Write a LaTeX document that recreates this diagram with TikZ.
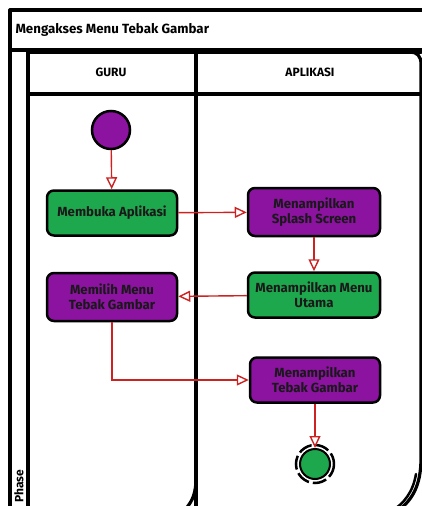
\documentclass[tikz,border=0pt]{standalone}
\usepackage{fontspec}
\setmainfont{Fira Sans}
\usetikzlibrary{arrows.meta}
\definecolor{actgreen}{RGB}{30,168,78}
\definecolor{actpurple}{RGB}{140,18,160}
\definecolor{flowred}{RGB}{204,34,34}
\tikzset{
  lane/.style={line width=3.2pt, line join=round, line cap=round},
  activity/.style={draw=black, line width=2.5pt, rounded corners=7pt, minimum width=130pt, minimum height=45pt, align=center, font=\fontsize{13.2}{15}\selectfont\bfseries, text=black!90, inner sep=1pt},
  flow/.style={draw=flowred, line width=1.4pt, -{Triangle[open, length=12pt, width=11pt, line width=1.4pt]}},
}

\begin{document}
\begin{tikzpicture}[x=1pt, y=-1pt]
			%%%%% START %%%%%
			\useasboundingbox (0, 0) rectangle (422, 506);
			
			% frame and lanes
			\draw[lane] (10, 510) -- (10, 10) -- (424, 10);
			\draw[lane] (10, 50) -- (424, 50);
			\draw[lane] (28, 510) -- (28, 52) -- (421, 52);
			\draw[lane] (196, 52) -- (196, 510);
			\draw[lane] (196, 482) .. controls (195, 497) and (191, 503) .. (183, 512);
			\draw[lane] (410, 52) .. controls (417, 52) and (421, 56) .. (421, 64) -- (421, 458) .. controls (421, 486) and (412, 501) .. (396, 512);
			\draw[lane, line width=2.5pt] (416, 474) .. controls (413, 492) and (404, 504) .. (390, 512);
			\draw[lane] (28, 94) -- (421, 94);
			
			\node[anchor=west, font=\fontsize{13.3}{15}\selectfont\bfseries] (title) at (12, 30) {Mengakses Menu Tebak Gambar};
			\node[font=\fontsize{12}{14}\selectfont\bfseries] (guru) at (111, 72) {GURU};
			\node[font=\fontsize{12}{14}\selectfont\bfseries] (aplikasi) at (310, 72) {APLIKASI};
			\node[rotate=90, font=\fontsize{12}{14}\selectfont\bfseries] (phase) at (19, 486) {Phase};
			
			% activities
			\node[circle, draw=black, line width=2.5pt, fill=actpurple, minimum size=38pt] (start) at (111, 130) {};
			\node[activity, fill=actgreen] (buka) at (112, 213) {Membuka Aplikasi};
			\node[activity, fill=actpurple, minimum width=132pt, minimum height=48pt] (splash) at (314, 212) {Menampilkan\\Splash Screen};
			\node[activity, fill=actgreen, minimum width=132pt] (utama) at (314, 295) {Menampilkan Menu\\Utama};
			\node[activity, fill=actpurple, minimum height=48pt] (pilih) at (112, 297) {Memilih Menu\\Tebak Gambar};
			\node[activity, fill=actpurple] (tebak) at (315, 380) {Menampilkan\\Tebak Gambar};
			\node[circle, draw=black, line width=2pt, fill=actgreen, minimum size=30pt] (finish) at (315, 464) {};
			\draw[line width=2.5pt, dash pattern=on 14pt off 4pt] (finish.center) circle (19);
			
			% flows
			\draw[flow] (start) -- (buka);
			\draw[flow] (buka) -- (splash);
			\draw[flow] (splash) -- (utama);
			\draw[flow] (utama) -- (pilih);
			\draw[flow] (pilih.south) |- (tebak.west);
			\draw[flow] (tebak) -- (finish.north);
			
			%%%%% END %%%%%
		\end{tikzpicture}
\end{document}
